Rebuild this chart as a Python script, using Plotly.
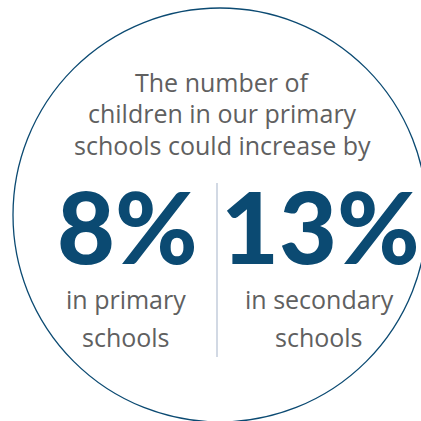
import plotly.graph_objects as go

intro_lines = ["The number of", "children in our primary", "schools could increase by"]
percentages = ["8%", "13%"]
sub_labels = [["in primary", "schools"], ["in secondary", "schools"]]

BLUE = "#0b4a72"
GREY = "#606060"
FONT = "Open Sans"
NUM_FONT = "Lato"

fig = go.Figure()
fig.update_layout(
    width=421, height=421,
    margin=dict(l=0, r=0, t=0, b=0),
    paper_bgcolor="white", plot_bgcolor="white",
    xaxis=dict(range=[0, 421], visible=False, fixedrange=True),
    yaxis=dict(range=[421, 0], visible=False, fixedrange=True),
    showlegend=False,
)

fig.add_shape(type="circle", x0=13, x1=427, y0=8, y1=422,
              line=dict(color=BLUE, width=1.3))
fig.add_shape(type="line", x0=217, x1=217, y0=183, y1=357,
              line=dict(color="#c3cddb", width=1.5))

intro_y = [82, 113, 145]
for t, y in zip(intro_lines, intro_y):
    fig.add_annotation(x=222, y=y, text=t, showarrow=False,
                       font=dict(family=FONT, size=25, color=GREY),
                       xanchor="center", yanchor="middle")

cx = [127, 320]
for i, p in enumerate(percentages):
    fig.add_annotation(x=cx[i], y=225, text=p, showarrow=False,
                       font=dict(family=NUM_FONT, size=100, color=BLUE, weight=900),
                       xanchor="center", yanchor="middle")
    for j, s in enumerate(sub_labels[i]):
        fig.add_annotation(x=cx[i] - 1, y=[299, 337][j], text=s, showarrow=False,
                           font=dict(family=FONT, size=25, color=GREY),
                           xanchor="center", yanchor="middle")

fig.write_html("out.html", config={"displayModeBar": False},
               post_script="document.body.style.margin='0';document.body.style.overflow='hidden';")
